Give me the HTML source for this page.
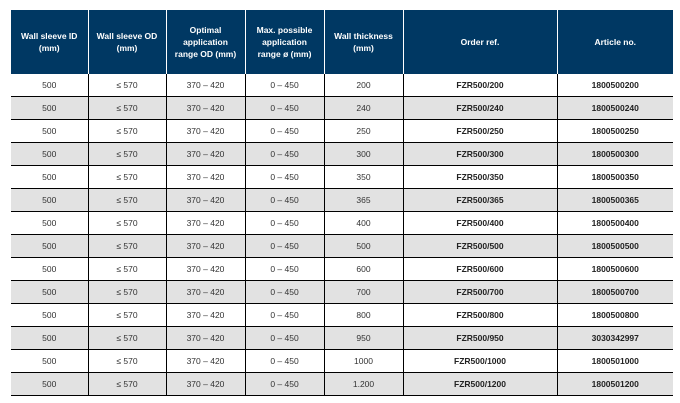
<!DOCTYPE html>
<html><head><style>
body{margin:0;background:#fff;width:680px;height:403px;overflow:hidden;font-family:"Liberation Sans",sans-serif;}
table{position:absolute;left:11px;top:10px;border-collapse:collapse;table-layout:fixed;width:662px;}
th{background:#003863;color:#fff;font-size:8.5px;font-weight:bold;height:64px;padding:0 7px;border-left:1px solid #fff;line-height:12px;}
th:first-child{border-left:none;padding:0 3px;}
td{font-size:8.5px;color:#333;text-align:center;height:22px;padding:0;border-left:1px solid #000;border-bottom:1px solid #000;}
td:first-child{border-left:none;}
td.b{font-weight:bold;color:#222;}
tr.g td{background:#e2e2e2;}
</style></head><body>
<table>
<colgroup><col style="width:77px"><col style="width:78px"><col style="width:79px"><col style="width:79px"><col style="width:79px"><col style="width:154px"><col style="width:116px"></colgroup>
<tr><th>Wall sleeve ID (mm)</th><th style="padding:0 3px">Wall sleeve OD (mm)</th><th>Optimal application range OD (mm)</th><th>Max. possible application range ø (mm)</th><th style="padding:0 2px">Wall thickness (mm)</th><th>Order ref.</th><th>Article no.</th></tr>
<tr><td>500</td><td>≤ 570</td><td>370 – 420</td><td>0 – 450</td><td>200</td><td class="b">FZR500/200</td><td class="b">1800500200</td></tr>
<tr class="g"><td>500</td><td>≤ 570</td><td>370 – 420</td><td>0 – 450</td><td>240</td><td class="b">FZR500/240</td><td class="b">1800500240</td></tr>
<tr><td>500</td><td>≤ 570</td><td>370 – 420</td><td>0 – 450</td><td>250</td><td class="b">FZR500/250</td><td class="b">1800500250</td></tr>
<tr class="g"><td>500</td><td>≤ 570</td><td>370 – 420</td><td>0 – 450</td><td>300</td><td class="b">FZR500/300</td><td class="b">1800500300</td></tr>
<tr><td>500</td><td>≤ 570</td><td>370 – 420</td><td>0 – 450</td><td>350</td><td class="b">FZR500/350</td><td class="b">1800500350</td></tr>
<tr class="g"><td>500</td><td>≤ 570</td><td>370 – 420</td><td>0 – 450</td><td>365</td><td class="b">FZR500/365</td><td class="b">1800500365</td></tr>
<tr><td>500</td><td>≤ 570</td><td>370 – 420</td><td>0 – 450</td><td>400</td><td class="b">FZR500/400</td><td class="b">1800500400</td></tr>
<tr class="g"><td>500</td><td>≤ 570</td><td>370 – 420</td><td>0 – 450</td><td>500</td><td class="b">FZR500/500</td><td class="b">1800500500</td></tr>
<tr><td>500</td><td>≤ 570</td><td>370 – 420</td><td>0 – 450</td><td>600</td><td class="b">FZR500/600</td><td class="b">1800500600</td></tr>
<tr class="g"><td>500</td><td>≤ 570</td><td>370 – 420</td><td>0 – 450</td><td>700</td><td class="b">FZR500/700</td><td class="b">1800500700</td></tr>
<tr><td>500</td><td>≤ 570</td><td>370 – 420</td><td>0 – 450</td><td>800</td><td class="b">FZR500/800</td><td class="b">1800500800</td></tr>
<tr class="g"><td>500</td><td>≤ 570</td><td>370 – 420</td><td>0 – 450</td><td>950</td><td class="b">FZR500/950</td><td class="b">3030342997</td></tr>
<tr><td>500</td><td>≤ 570</td><td>370 – 420</td><td>0 – 450</td><td>1000</td><td class="b">FZR500/1000</td><td class="b">1800501000</td></tr>
<tr class="g"><td>500</td><td>≤ 570</td><td>370 – 420</td><td>0 – 450</td><td>1.200</td><td class="b">FZR500/1200</td><td class="b">1800501200</td></tr>
</table>
</body></html>
